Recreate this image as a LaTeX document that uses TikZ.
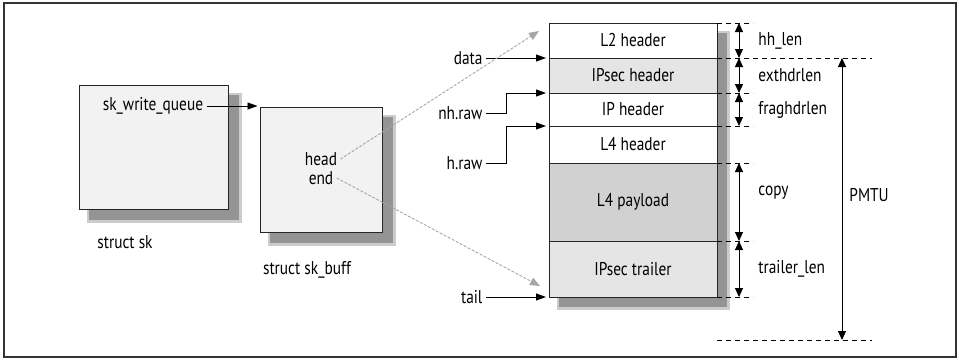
\documentclass[tikz,border=0pt]{standalone}
\usepackage{fontspec}
\setmainfont{PT Sans}[FakeStretch=0.83]
\usetikzlibrary{arrows.meta,positioning,backgrounds}

\tikzset{
  box/.style={draw=black!85, fill=black!5, line width=1pt, inner sep=0pt},
  cell/.style={draw=black!85, fill=white, line width=1pt, minimum width=168pt, inner sep=0pt, outer sep=0pt},
  ptr/.style={-{Triangle[length=10pt,width=7pt]}, line width=0.9pt, shorten >=3pt},
  dots/.style={-{Triangle[length=10pt,width=8pt]}, draw=black!35, fill=black!35, line width=0.9pt, dash pattern=on 2.5pt off 2pt},
  dim/.style={{Triangle[length=9pt,width=8pt]}-{Triangle[length=9pt,width=8pt]}, line width=0.9pt},
  guide/.style={line width=0.8pt, dash pattern=on 5pt off 4pt},
  halo/.style={fill=black!20},
  core/.style={fill=black!42},
  lenlbl/.style={anchor=west, inner sep=0pt},
}

\begin{document}
\begin{tikzpicture}[x=1pt,y=-1pt,font=\fontsize{18.5}{20}\selectfont]
  \useasboundingbox (0,0) rectangle (959,360);
  \draw[line width=1.2pt, black!80] (4,3) rectangle (956,357);
  % struct sk
  \node[box, minimum width=149pt, minimum height=124pt] (sk) at (153.5,147) {};
  \node (wq) at (153,106) {sk\_write\_queue};
  \node (sklbl) at (125,242) {struct sk};
  % struct sk_buff
  \node[box, minimum width=122pt, minimum height=125pt] (skb) at (321,169.5) {};
  \node (head) at (321,159) {head};
  \node (end) at (321,178) {end};
  \node (skblbl) at (307,270) {struct sk\_buff};
  \draw[ptr, shorten >=2pt] (wq.east) -- (wq.east -| skb.west);
  % packet buffer
  \node[cell, minimum height=35pt] (l2) at (633,40.5) {L2 header};
  \node[cell, minimum height=35pt, fill=black!10, below=0pt of l2] (esph) {IPsec header};
  \node[cell, minimum height=33pt, below=0pt of esph] (iph) {IP header};
  \node[cell, minimum height=37pt, below=0pt of iph] (l4h) {L4 header};
  \node[cell, minimum height=78pt, fill=black!18, below=0pt of l4h] (pay) {L4 payload};
  \node[cell, minimum height=56pt, fill=black!10, below=0pt of pay] (trl) {IPsec trailer};
  % shadows
  \begin{scope}[on background layer]
    \fill[halo] ([shift={(8,8)}]sk.north west) rectangle ([shift={(13,13)}]sk.south east);
    \fill[core] ([shift={(10,10)}]sk.north west) rectangle ([shift={(10,10)}]sk.south east);
    \fill[halo] ([shift={(8,8)}]skb.north west) rectangle ([shift={(13,13)}]skb.south east);
    \fill[core] ([shift={(10,10)}]skb.north west) rectangle ([shift={(10,10)}]skb.south east);
    \fill[halo] ([shift={(8,8)}]l2.north west) rectangle ([shift={(13,13)}]trl.south east);
    \fill[core] ([shift={(10,10)}]l2.north west) rectangle ([shift={(10,10)}]trl.south east);
  \end{scope}
  % pointers
  \node[anchor=east] (data) at (486,58) {data};
  \node[anchor=east] (nh) at (486,113) {nh.raw};
  \node[anchor=east] (hr) at (486,163) {h.raw};
  \node[anchor=east] (tail) at (486,297) {tail};
  \draw[ptr] (data.east) -- (data.east -| l2.south west);
  \draw[ptr] (nh.east) -- ++(20,0) |- (esph.south west);
  \draw[ptr] (hr.east) -- ++(20,0) |- (iph.south west);
  \draw[ptr] (tail.east) -- (tail.east -| trl.south west);
  \draw[dots] (head.east) -- ([shift={(-10,8)}]l2.north west);
  \draw[dots] (end.east) -- ([shift={(-9,-11)}]trl.south west);
  % lengths
  \coordinate (pbot) at (717,340);
  \foreach \a in {l2.north east, esph.south east, iph.south east, pay.north east, pay.south east, trl.south east}
    \draw[guide] (\a) -- ++(36,0);
  \draw[guide] (l2.south east) -- ++(155,0);
  \draw[guide] (pbot) -- ++(155,0);
  \draw[dim] ([xshift=22pt]l2.north east) -- ([xshift=22pt]l2.south east) node[lenlbl, midway, xshift=19pt] {hh\_len};
  \draw[dim] ([xshift=22pt]esph.north east) -- ([xshift=22pt]esph.south east) node[lenlbl, midway, xshift=19pt] {exthdrlen};
  \draw[dim] ([xshift=22pt]iph.north east) -- ([xshift=22pt]iph.south east) node[lenlbl, midway, xshift=19pt] {fraghdrlen};
  \draw[dim] ([xshift=22pt]pay.north east) -- ([xshift=22pt]pay.south east) node[lenlbl, pos=0.38, xshift=19pt] {copy};
  \draw[dim] ([xshift=22pt]trl.north east) -- ([xshift=22pt]trl.south east) node[lenlbl, midway, xshift=19pt] {trailer\_len};
  \draw[dim] ([xshift=125pt]l2.south east) -- ([xshift=125pt]pbot) node[lenlbl, pos=0.485, xshift=7pt] {PMTU};
\end{tikzpicture}
\end{document}
